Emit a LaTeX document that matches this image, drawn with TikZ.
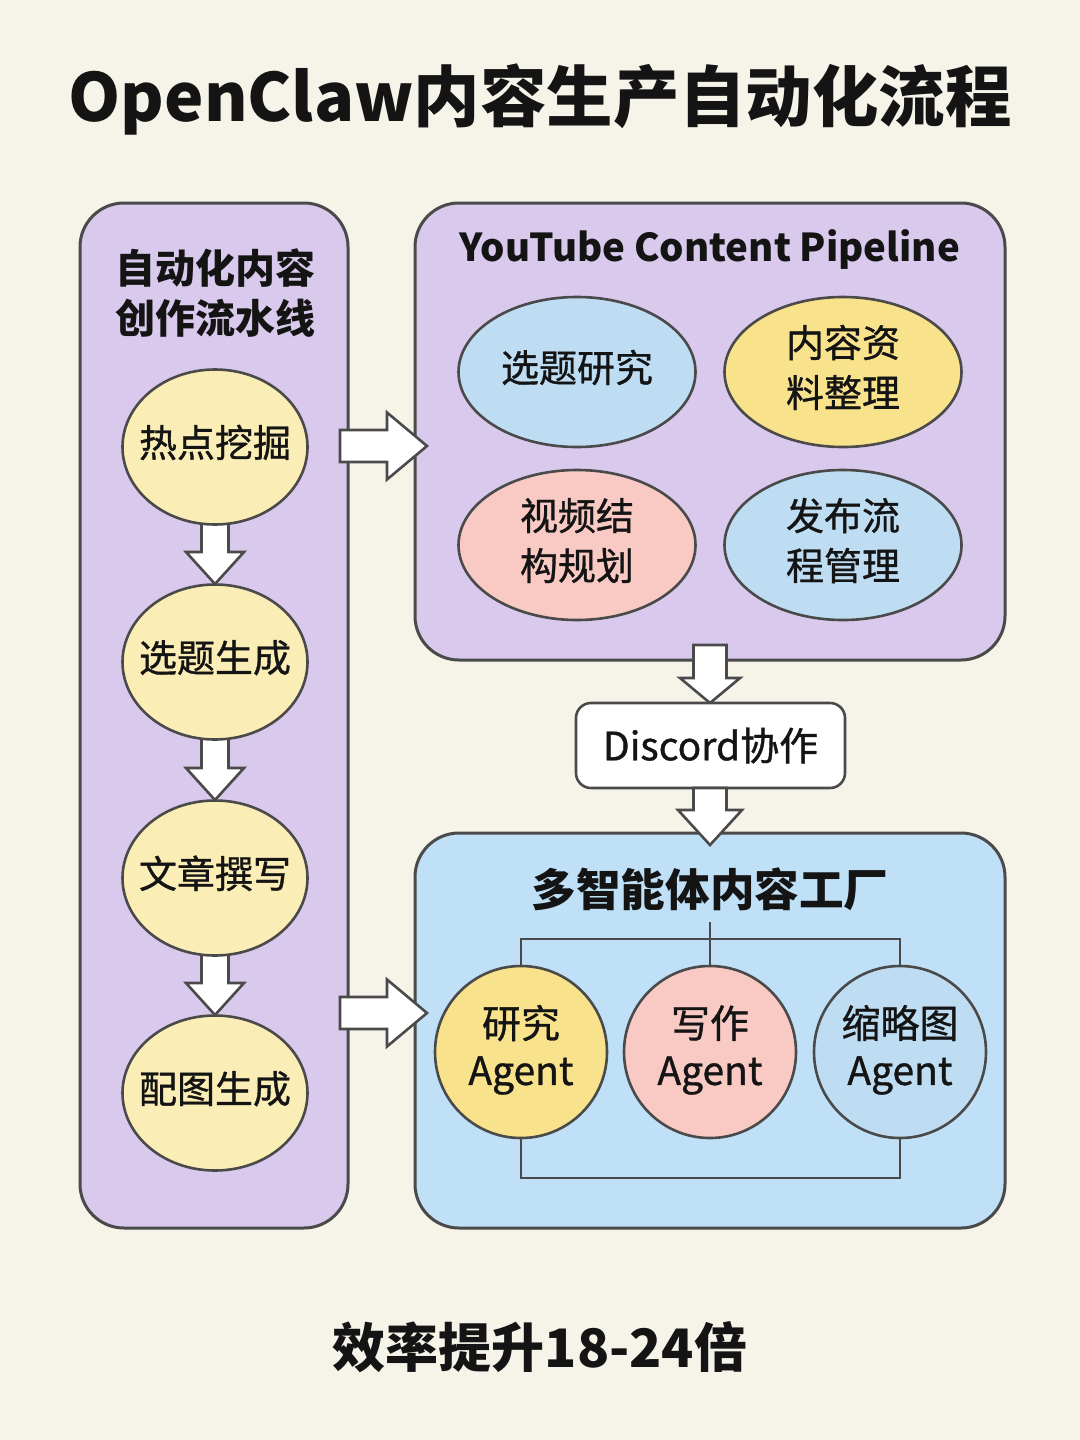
\documentclass[tikz,border=0pt]{standalone}
\usepackage{fontspec}
\setmainfont{Noto Sans CJK SC}
\newfontfamily\nodefont[FakeBold=0.9]{Noto Sans CJK SC}
\usetikzlibrary{shapes.geometric}
\definecolor{bgc}{HTML}{F6F3E9}
\definecolor{lav}{HTML}{D9C9EC}
\definecolor{pblue}{HTML}{BFE0F6}
\definecolor{lyel}{HTML}{FAEDB5}
\definecolor{yel}{HTML}{F9E28C}
\definecolor{pink}{HTML}{F8CAC3}
\definecolor{cblue}{HTML}{BEDDF3}
\definecolor{lc}{HTML}{4A4A4A}
\definecolor{tc}{HTML}{141414}
\newcommand{\zw}[1]{\makebox[0pt]{\raisebox{-2.3pt}{\begin{tabular}{@{}c@{}}#1\end{tabular}}}}
\newcommand{\barrowD}[6]{% x, ytop, ytip, shaft half, head half, head length
  \draw[barrow] ({#1-#4},#2) -- ({#1+#4},#2) -- ({#1+#4},{#3-#6}) -- ({#1+#5},{#3-#6}) -- (#1,#3) -- ({#1-#5},{#3-#6}) -- ({#1-#4},{#3-#6}) -- cycle;}
\newcommand{\barrowR}[6]{% y, xstart, xtip, shaft half, head half, head length
  \draw[barrow] (#2,{#1-#4}) -- (#2,{#1+#4}) -- ({#3-#6},{#1+#4}) -- ({#3-#6},{#1+#5}) -- (#3,#1) -- ({#3-#6},{#1-#5}) -- ({#3-#6},{#1-#4}) -- cycle;}
\begin{document}
\begin{tikzpicture}[x=0.5pt,y=-0.5pt,
  panel/.style={draw=lc, line width=1.5pt, rounded corners=22pt, inner sep=0pt},
  ell/.style={ellipse, draw=lc, line width=1.3pt, inner sep=0pt, text=tc, font=\fontsize{19}{25}\nodefont},
  circ/.style={circle, draw=lc, line width=1.3pt, inner sep=0pt, minimum size=86pt, text=tc, font=\fontsize{19.5}{23.5}\nodefont},
  barrow/.style={draw=lc, line width=1.3pt, fill=white, line join=miter},
  conn/.style={draw=lc, line width=1.1pt},
  hdr/.style={text=tc, align=center, inner sep=0pt}]
\useasboundingbox (0,0) rectangle (1080,1440);
\fill[bgc] (0,0) rectangle (1080,1440);

% title
\node[hdr, font=\fontsize{33.2}{40}\selectfont\bfseries] (title) at (540,100) {OpenClaw内容生产自动化流程};

% panels
\node[panel, fill=lav, minimum width=134pt, minimum height=512.5pt] (lp) at (214,715.5) {};
\node[panel, fill=lav, minimum width=295pt, minimum height=228.5pt] (tp) at (710,431.5) {};
\node[panel, fill=pblue, minimum width=295pt, minimum height=197.5pt] (bp) at (710,1030.5) {};

% headers
\node[hdr, font=\fontsize{20}{25}\selectfont\bfseries] (lh) at (215,293) {自动化内容\\创作流水线};
\node[hdr, font=\fontsize{19.2}{24}\selectfont\bfseries] (th) at (710,250) {YouTube Content Pipeline};
\node[hdr, font=\fontsize{22.3}{26}\selectfont\bfseries] (bh) at (710,889) {多智能体内容工厂};

% left down arrows (under ellipses)
\barrowD{215}{515}{584}{13.5}{29}{32}
\barrowD{215}{730}{800}{13.5}{29}{32}
\barrowD{215}{946}{1015}{13.5}{29}{32}

% left ellipses
\node[ell, fill=lyel, minimum width=92.5pt, minimum height=77.5pt] (l1) at (215,447) {\zw{热点挖掘}};
\node[ell, fill=lyel, minimum width=92.5pt, minimum height=77.5pt] (l2) at (215,662) {\zw{选题生成}};
\node[ell, fill=lyel, minimum width=92.5pt, minimum height=77.5pt] (l3) at (215,878) {\zw{文章撰写}};
\node[ell, fill=lyel, minimum width=92.5pt, minimum height=77.5pt] (l4) at (215,1093) {\zw{配图生成}};

% top right ellipses
\node[ell, fill=cblue, minimum width=118.5pt, minimum height=75pt] (t1) at (577,372) {\zw{选题研究}};
\node[ell, fill=yel, minimum width=118.5pt, minimum height=75pt] (t2) at (843,372) {\zw{内容资\\料整理}};
\node[ell, fill=pink, minimum width=118.5pt, minimum height=75pt] (t3) at (577,545) {\zw{视频结\\构规划}};
\node[ell, fill=cblue, minimum width=118.5pt, minimum height=75pt] (t4) at (843,545) {\zw{发布流\\程管理}};

% right arrows
\barrowR{446}{340}{427}{16}{33.5}{40}
\barrowR{1013}{340}{427}{16}{33.5}{40}

% discord
\barrowD{710}{645}{703}{16.5}{30}{25}
\node[draw=lc, line width=1.3pt, fill=white, rounded corners=7.5pt, minimum width=134.5pt, minimum height=42.5pt, inner sep=0pt, text=tc, font=\fontsize{19.5}{24}\nodefont] (dc) at (710.5,745.5) {Discord协作};
\barrowD{710}{788}{845}{16.5}{32}{35}

% agents
\node[circ, fill=yel] (a1) at (521,1052) {\zw{研究\\Agent}};
\node[circ, fill=pink] (a2) at (710,1052) {\zw{写作\\Agent}};
\node[circ, fill=cblue] (a3) at (900,1052) {\zw{缩略图\\Agent}};
\coordinate (hub) at (710,922);
\draw[conn] (a1.north) -- ++(0,-26) -| (a3.north);
\draw[conn] (hub) -- (a2.north);
\draw[conn] (a1.south) -- ++(0,39) -| (a3.south);

% footer
\node[hdr, font=\fontsize{26.5}{30}\selectfont\bfseries] (ft) at (540,1347) {效率提升18-24倍};
\end{tikzpicture}
\end{document}
